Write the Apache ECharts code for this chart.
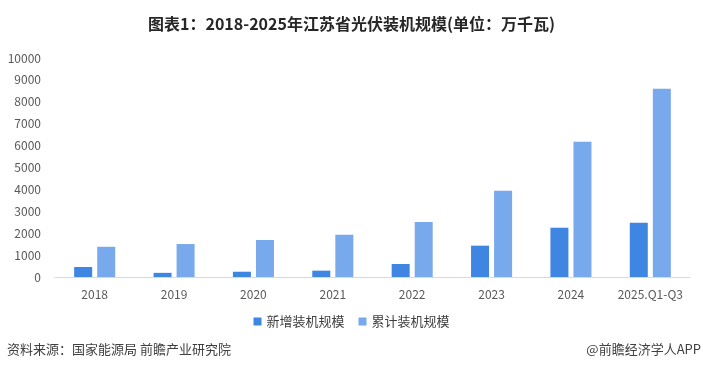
<!DOCTYPE html>
<html><head><meta charset="utf-8">
<script src="https://cdn.jsdelivr.net/npm/echarts@6/dist/echarts.min.js"></script>
<style>html,body{margin:0;padding:0;background:#fff}#c{width:703px;height:373px}</style>
</head><body><div id="c"></div>
<script>
const categories = ['2018','2019','2020','2021','2022','2023','2024','2025.Q1-Q3'];
const newInstalled = [457, 190, 240, 290, 595, 1430, 2250, 2480];
const cumulative = [1380, 1505, 1690, 1930, 2510, 3940, 6180, 8600];
const yTicks = [0, 10000, 1000];
const seriesNames = ['新增装机规模', '累计装机规模'];

const chart = echarts.init(document.getElementById('c'));
const font = '"Noto Sans CJK SC", "Noto Sans", sans-serif';
chart.setOption({
  animation: false,
  title: {
    text: '图表1：2018-2025年江苏省光伏装机规模(单位：万千瓦)',
    left: 'center', top: 11,
    textStyle: { fontFamily: font, fontSize: 16, fontWeight: 'bold', color: '#262626' }
  },
  legend: {
    data: seriesNames, bottom: 40, left: 'center',
    itemWidth: 8, itemHeight: 8, itemGap: 14,
    icon: 'rect',
    textStyle: { fontFamily: font, fontSize: 13, color: '#404040' }
  },
  grid: { left: 55, right: 13, top: 58, bottom: 96 },
  xAxis: {
    type: 'category', data: categories,
    axisLine: { lineStyle: { color: '#d9d9d9' } },
    axisTick: { show: false },
    axisLabel: { interval: 0, fontFamily: font, fontSize: 12, color: '#595959', margin: 11 }
  },
  yAxis: {
    type: 'value', min: yTicks[0], max: yTicks[1], interval: yTicks[2],
    splitLine: { show: false },
    axisLine: { show: false }, axisTick: { show: false },
    axisLabel: { formatter: v => String(v), fontFamily: font, fontSize: 12, color: '#595959', margin: 14 }
  },
  series: [
    { name: seriesNames[0], type: 'bar', data: newInstalled, barWidth: 18, barGap: '28%',
      itemStyle: { color: '#3F86E2' } },
    { name: seriesNames[1], type: 'bar', data: cumulative, barWidth: 18,
      itemStyle: { color: '#77A9EC' } }
  ],
  graphic: [
    { type: 'text', left: 7, top: 343, style: { text: '资料来源：国家能源局 前瞻产业研究院', fontFamily: font, fontSize: 13, fill: '#404040' } },
    { type: 'text', right: 2, top: 343, style: { text: '@前瞻经济学人APP', fontFamily: font, fontSize: 13, fill: '#404040' } }
  ]
});
</script></body></html>
